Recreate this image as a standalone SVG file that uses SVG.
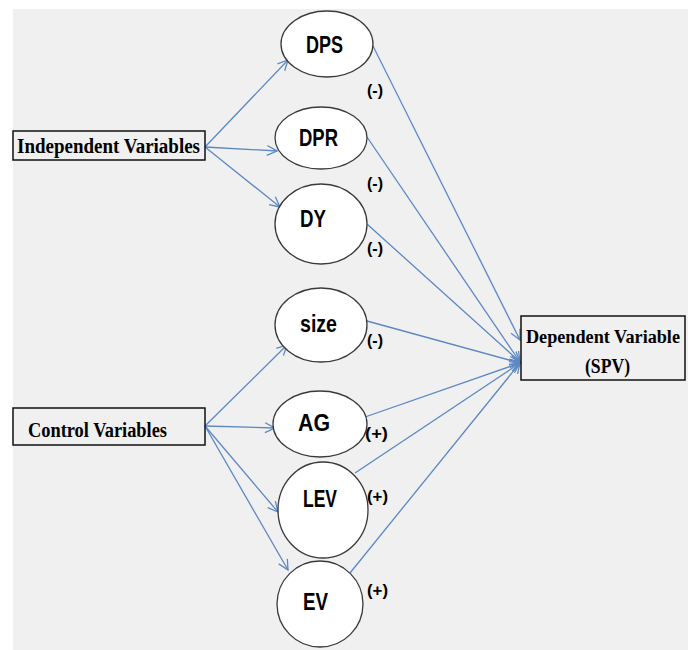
<svg xmlns="http://www.w3.org/2000/svg" width="688" height="650" viewBox="0 0 688 650">
<style>
.node{fill:#ffffff;stroke:#3a3a3a;stroke-width:1.3}
.box{fill:none;stroke:#111;stroke-width:1.5}
.lbl{font-family:"Liberation Sans",Arial,sans-serif;font-weight:bold;font-size:24px;fill:#000}
.sign{font-family:"Liberation Sans",Arial,sans-serif;font-weight:bold;font-size:17px;fill:#000}
.blbl{font-family:"Liberation Serif","Times New Roman",serif;font-weight:bold;font-size:20px;fill:#000}
.edge{stroke:#5b87c4;stroke-width:1.3;fill:none}
</style>
<defs>
<marker id="arr" viewBox="0 0 12 12" refX="11" refY="6" markerWidth="12" markerHeight="12" markerUnits="userSpaceOnUse" orient="auto">
<path d="M1,1 L11,6 L1,11" fill="none" stroke="#5b87c4" stroke-width="1.3"/>
</marker>
</defs>
<rect x="0" y="0" width="688" height="650" fill="#ffffff"/>
<rect x="13" y="9" width="675" height="641" fill="#f0f0f0"/>
<g id="connectors">
<line class="edge" x1="205" y1="147" x2="288" y2="60" marker-end="url(#arr)"/>
<line class="edge" x1="205" y1="147" x2="277" y2="151" marker-end="url(#arr)"/>
<line class="edge" x1="205" y1="147" x2="280" y2="207" marker-end="url(#arr)"/>
<line class="edge" x1="205" y1="426" x2="287" y2="345" marker-end="url(#arr)"/>
<line class="edge" x1="205" y1="426" x2="275" y2="428" marker-end="url(#arr)"/>
<line class="edge" x1="205" y1="426" x2="278" y2="512" marker-end="url(#arr)"/>
<line class="edge" x1="205" y1="426" x2="288" y2="570" marker-end="url(#arr)"/>
<line class="edge" x1="373" y1="46" x2="520" y2="340" marker-end="url(#arr)"/>
<line class="edge" x1="367" y1="137" x2="520" y2="362" marker-end="url(#arr)"/>
<line class="edge" x1="367" y1="224" x2="520" y2="362" marker-end="url(#arr)"/>
<line class="edge" x1="367" y1="321" x2="520" y2="363" marker-end="url(#arr)"/>
<line class="edge" x1="365" y1="417" x2="520" y2="363" marker-end="url(#arr)"/>
<line class="edge" x1="355" y1="473" x2="520" y2="363" marker-end="url(#arr)"/>
<line class="edge" x1="350" y1="573" x2="520" y2="363" marker-end="url(#arr)"/>
</g>
<g id="independent">
<rect class="box" x="13" y="131" width="192" height="29"/>
<text class="blbl" x="17" y="153" textLength="183" lengthAdjust="spacingAndGlyphs">Independent Variables</text>
</g>
<g id="control">
<rect class="box" x="13" y="408" width="192" height="37"/>
<text class="blbl" x="28" y="437" textLength="139" lengthAdjust="spacingAndGlyphs">Control Variables</text>
</g>
<g id="dependent">
<rect class="box" x="521" y="316" width="164" height="64"/>
<text class="blbl" x="526" y="343" style="font-size:18px" textLength="154" lengthAdjust="spacingAndGlyphs">Dependent Variable</text>
<text class="blbl" x="585" y="373" textLength="45" lengthAdjust="spacingAndGlyphs">(SPV)</text>
</g>
<g id="DPS">
<ellipse class="node" cx="327" cy="44" rx="46" ry="33"/>
<text class="lbl" x="306" y="53" textLength="37" lengthAdjust="spacingAndGlyphs">DPS</text>
<text class="sign" x="367" y="96" textLength="16" lengthAdjust="spacingAndGlyphs">(-)</text>
</g>
<g id="DPR">
<ellipse class="node" cx="321" cy="138" rx="46" ry="31"/>
<text class="lbl" x="299" y="146" textLength="39" lengthAdjust="spacingAndGlyphs">DPR</text>
<text class="sign" x="367" y="189" textLength="16" lengthAdjust="spacingAndGlyphs">(-)</text>
</g>
<g id="DY">
<ellipse class="node" cx="321" cy="224" rx="46" ry="40"/>
<text class="lbl" x="300" y="227" textLength="26" lengthAdjust="spacingAndGlyphs">DY</text>
<text class="sign" x="367" y="254" textLength="16" lengthAdjust="spacingAndGlyphs">(-)</text>
</g>
<g id="size">
<ellipse class="node" cx="321" cy="325" rx="46" ry="37"/>
<text class="lbl" x="300" y="332" textLength="37" lengthAdjust="spacingAndGlyphs">size</text>
<text class="sign" x="367" y="346" textLength="16" lengthAdjust="spacingAndGlyphs">(-)</text>
</g>
<g id="AG">
<ellipse class="node" cx="320" cy="424" rx="47" ry="33"/>
<text class="lbl" x="298" y="431" textLength="32" lengthAdjust="spacingAndGlyphs">AG</text>
<text class="sign" x="365" y="439" textLength="23" lengthAdjust="spacingAndGlyphs">(+)</text>
</g>
<g id="LEV">
<ellipse class="node" cx="323" cy="510" rx="45" ry="48"/>
<text class="lbl" x="303" y="507" textLength="34" lengthAdjust="spacingAndGlyphs">LEV</text>
<text class="sign" x="367" y="502" textLength="21" lengthAdjust="spacingAndGlyphs">(+)</text>
</g>
<g id="EV">
<ellipse class="node" cx="320" cy="604" rx="43" ry="43"/>
<text class="lbl" x="303" y="610" textLength="25" lengthAdjust="spacingAndGlyphs">EV</text>
<text class="sign" x="367" y="596" textLength="21" lengthAdjust="spacingAndGlyphs">(+)</text>
</g>
</svg>
